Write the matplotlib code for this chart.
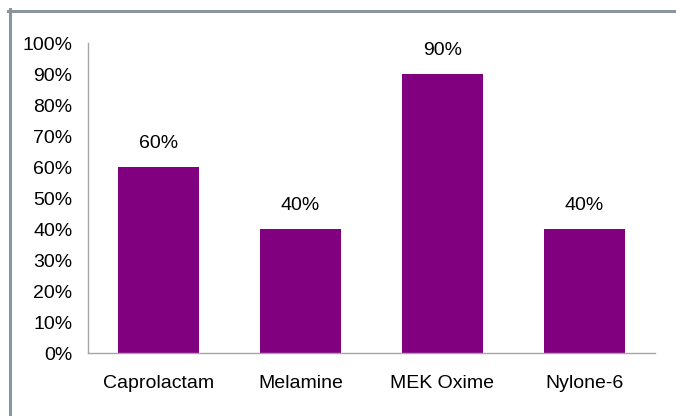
import matplotlib
matplotlib.use("Agg")
import matplotlib.pyplot as plt
from matplotlib.lines import Line2D

plt.rcParams['font.family'] = ['Liberation Sans', 'DejaVu Sans']

# data
chemicals = ["Caprolactam", "Melamine", "MEK Oxime", "Nylone-6"]
shares = [60, 40, 90, 40]
yticks = list(range(0, 101, 10))

fig = plt.figure(figsize=(6.76, 4.16), dpi=100)
ax = fig.add_axes([0.130, 0.1514, 0.839, 0.7452])

x = range(len(chemicals))
bars = ax.bar(x, shares, width=0.57, color="#800080")
for b, v in zip(bars, shares):
    ax.annotate("%d%%" % v, (b.get_x() + b.get_width() / 2, v),
                xytext=(0, 17), textcoords="offset points",
                ha="center", va="center", fontsize=14)

ax.set_xlim(-0.5, len(chemicals) - 0.5)
ax.set_ylim(0, 100)
ax.set_yticks(yticks)
ax.set_yticklabels(["%d%%" % t for t in yticks])
ax.set_xticks(list(x))
ax.set_xticklabels(chemicals)
ax.tick_params(axis="both", length=0, labelsize=14)
ax.tick_params(axis="y", pad=11)
ax.tick_params(axis="x", pad=15.5)

for s in ["top", "right"]:
    ax.spines[s].set_visible(False)
for s in ["left", "bottom"]:
    ax.spines[s].set_color("#a6a6a6")
    ax.spines[s].set_linewidth(1.0)

# gray frame on top and left of the image
fig.add_artist(Line2D([8 / 676, 1], [1 - 10.5 / 416, 1 - 10.5 / 416],
                      transform=fig.transFigure, color="#8a959c", lw=2.2))
fig.add_artist(Line2D([9.5 / 676, 9.5 / 676], [0, 1 - 9 / 416],
                      transform=fig.transFigure, color="#8a959c", lw=2.2))

fig.savefig("out.png", dpi=100)
